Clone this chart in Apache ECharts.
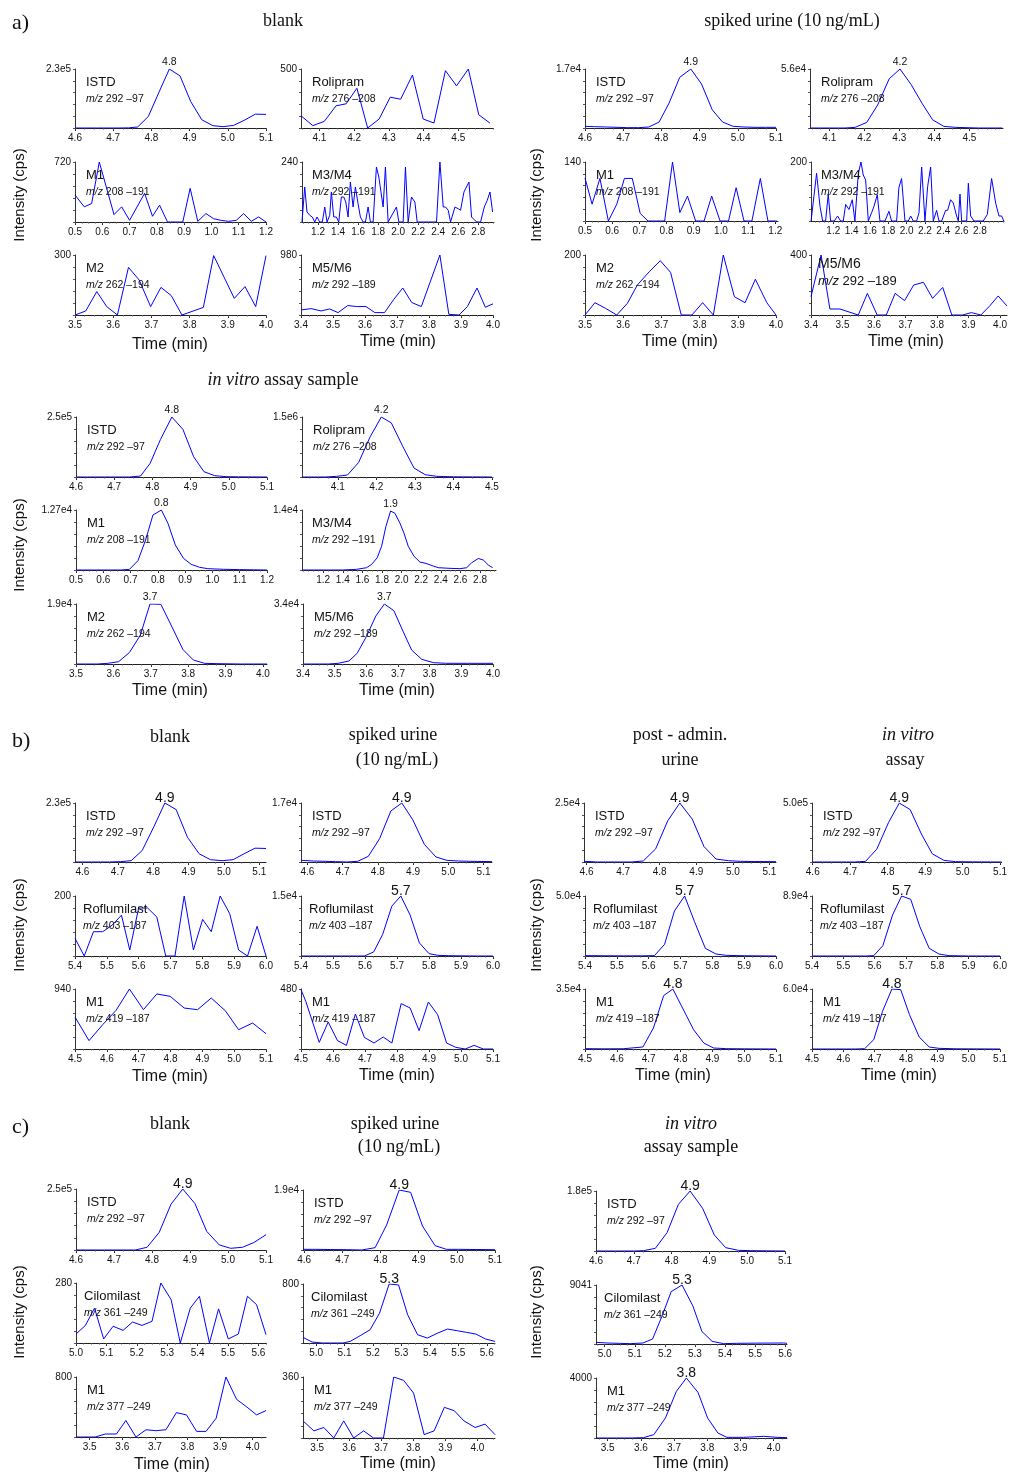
<!DOCTYPE html>
<html><head><meta charset="utf-8">
<script src="https://cdn.jsdelivr.net/npm/echarts@6/dist/echarts.min.js"></script>
<style>html,body{margin:0;padding:0;background:#fff}#c{width:1010px;height:1473px}</style>
</head><body><div id="c"></div>
<script>
// ================= DATA (time in min, intensity in cps) =================
// ---- a) blank ----
const A_BLANK_ISTD = [[4.600,0],[4.628,0],[4.656,0],[4.684,0],[4.712,0],[4.740,500],[4.764,3900],[4.792,45000],[4.820,140000],[4.847,230000],[4.875,203000],[4.903,103000],[4.932,32000],[4.961,9000],[4.987,5200],[5.015,10000],[5.043,30000],[5.072,54000],[5.100,53000]];
const A_BLANK_M1 = [[0.500,324],[0.534,182],[0.561,222],[0.589,720],[0.643,89],[0.671,182],[0.700,20],[0.755,344],[0.784,69],[0.810,202],[0.839,0],[0.867,0],[0.895,0],[0.922,404],[0.950,8],[0.980,101],[1.008,40],[1.035,20],[1.063,8],[1.091,20],[1.118,101],[1.146,8],[1.173,61],[1.200,0]];
const A_BLANK_M2 = [[3.500,0],[3.528,20],[3.557,117],[3.583,42],[3.611,0],[3.640,238],[3.668,175],[3.698,42],[3.725,138],[3.752,97],[3.780,0],[3.836,38],[3.863,297],[3.917,83],[3.945,142],[3.973,42],[4.000,297]];
const A_BLANK_ROLI = [[4.047,104],[4.081,20],[4.114,56],[4.148,188],[4.177,205],[4.208,337],[4.239,0],[4.272,76],[4.304,261],[4.334,244],[4.368,449],[4.399,76],[4.430,42],[4.463,486],[4.495,357],[4.529,500],[4.559,112],[4.591,42]];
const A_BLANK_M34 = [[1.040,0],[1.067,140],[1.090,40],[1.117,27],[1.143,20],[1.167,0],[1.190,20],[1.217,0],[1.243,0],[1.267,60],[1.290,0],[1.317,27],[1.333,120],[1.357,20],[1.383,20],[1.407,0],[1.433,100],[1.457,100],[1.477,80],[1.500,20],[1.523,160],[1.550,60],[1.573,140],[1.600,73],[1.623,20],[1.650,0],[1.673,0],[1.700,60],[1.723,0],[1.750,0],[1.783,220],[1.807,180],[1.850,60],[1.873,220],[1.900,0],[1.983,60],[2.007,0],[2.050,0],[2.073,220],[2.100,0],[2.133,100],[2.167,80],[2.190,0],[2.383,0],[2.417,240],[2.450,60],[2.473,60],[2.500,47],[2.523,0],[2.567,60],[2.600,53],[2.623,47],[2.657,120],[2.707,160],[2.733,20],[2.783,0],[2.823,0],[2.860,60],[2.890,87],[2.917,120],[2.943,40]];
const A_BLANK_M56 = [[3.400,83],[3.432,104],[3.463,66],[3.489,99],[3.516,39],[3.546,154],[3.574,138],[3.603,138],[3.631,39],[3.661,39],[3.689,248],[3.718,441],[3.746,204],[3.776,138],[3.834,980],[3.862,11],[3.894,0],[3.920,138],[3.950,441],[3.976,127],[4.000,182]];
// ---- a) spiked urine ----
const A_SPK_ISTD = [[4.600,478],[4.625,382],[4.656,287],[4.684,190],[4.712,96],[4.740,96],[4.767,287],[4.794,1719],[4.820,7162],[4.848,14611],[4.877,17000],[4.905,12700],[4.933,5253],[4.960,1719],[4.988,478],[5.016,287],[5.045,191],[5.073,191],[5.100,191]];
const A_SPK_M1 = [[0.500,102],[0.526,40],[0.555,101],[0.586,0],[0.617,40],[0.645,101],[0.674,101],[0.703,18],[0.732,0],[0.762,0],[0.793,0],[0.822,140],[0.849,20],[0.877,59],[0.907,0],[0.938,0],[0.966,59],[0.997,0],[1.028,0],[1.056,79],[1.085,0],[1.114,0],[1.145,101],[1.173,0],[1.206,0]];
const A_SPK_M2 = [[3.500,0],[3.526,41],[3.554,22],[3.583,0],[3.611,39],[3.637,100],[3.668,144],[3.697,181],[3.724,142],[3.752,0],[3.780,0],[3.808,41],[3.836,0],[3.862,200],[3.891,61],[3.919,41],[3.946,119],[3.976,41],[4.000,0]];
const A_SPK_ROLI = [[4.047,0],[4.078,0],[4.111,0],[4.145,0],[4.174,622],[4.207,5289],[4.238,21778],[4.271,46667],[4.302,56000],[4.334,41067],[4.365,23333],[4.395,7778],[4.427,1556],[4.460,622],[4.493,311],[4.527,0],[4.560,0],[4.594,0]];
const A_SPK_M34 = [[0.958,0],[1.018,162],[1.055,50],[1.084,0],[1.116,0],[1.145,91],[1.171,0],[1.211,0],[1.247,17],[1.280,0],[1.309,0],[1.335,56],[1.371,39],[1.407,72],[1.436,0],[1.473,161],[1.502,200],[1.527,156],[1.553,139],[1.582,0],[1.618,28],[1.644,50],[1.680,89],[1.709,0],[1.764,0],[1.807,33],[1.836,0],[1.891,0],[1.916,114],[1.945,144],[1.982,0],[2.018,0],[2.044,17],[2.073,0],[2.109,0],[2.135,28],[2.164,183],[2.200,0],[2.229,117],[2.262,183],[2.291,0],[2.327,36],[2.353,0],[2.382,0],[2.425,36],[2.447,36],[2.480,72],[2.509,61],[2.545,17],[2.564,0],[2.582,91],[2.600,0],[2.655,0],[2.673,128],[2.698,17],[2.735,0],[2.836,0],[2.880,22],[2.927,144],[2.971,61],[3.007,17],[3.036,17],[3.060,0]];
const A_SPK_M56 = [[3.400,122],[3.432,400],[3.460,40],[3.492,40],[3.550,0],[3.579,144],[3.610,0],[3.639,0],[3.667,144],[3.697,96],[3.726,200],[3.757,218],[3.786,111],[3.818,184],[3.847,0],[3.881,0],[3.909,16],[3.939,0],[3.968,62],[3.994,127],[4.022,60]];
// ---- a) in vitro assay sample ----
const A_IV_ISTD = [[4.600,0],[4.630,0],[4.660,0],[4.690,0],[4.715,0],[4.740,0],[4.769,4144],[4.794,56630],[4.821,156077],[4.851,250000],[4.880,198000],[4.908,84254],[4.935,22099],[4.963,5525],[4.993,1381],[5.025,600],[5.060,300],[5.100,0]];
const A_IV_M1 = [[0.500,0],[0.560,0],[0.620,0],[0.665,0],[0.696,141],[0.727,1976],[0.755,6350],[0.782,11642],[0.813,12700],[0.837,9878],[0.864,5292],[0.894,2470],[0.922,1200],[0.953,564],[0.983,282],[1.040,150],[1.100,80],[1.200,0]];
const A_IV_M2 = [[3.500,0],[3.530,0],[3.557,0],[3.585,209],[3.614,731],[3.643,3654],[3.672,9082],[3.698,19000],[3.727,18900],[3.757,11692],[3.786,4593],[3.814,1253],[3.844,209],[3.880,100],[3.940,0],[4.011,0]];
const A_IV_ROLI = [[4.008,0],[4.040,0],[4.068,0],[4.097,16484],[4.125,49451],[4.154,362637],[4.184,1005495],[4.213,1500000],[4.239,1351648],[4.269,758242],[4.298,222527],[4.327,57692],[4.357,16484],[4.400,5000],[4.450,2000],[4.500,0]];
const A_IV_M34 = [[0.986,0],[1.200,0],[1.400,0],[1.540,154],[1.643,538],[1.694,1308],[1.751,2846],[1.796,5538],[1.840,10154],[1.888,13769],[1.932,13231],[1.983,10923],[2.024,8615],[2.068,5538],[2.126,3231],[2.187,1846],[2.249,1538],[2.323,923],[2.374,538],[2.494,385],[2.596,308],[2.664,538],[2.715,1692],[2.783,2692],[2.834,2308],[2.885,1154],[2.929,538]];
const A_IV_M56 = [[3.400,0],[3.450,0],[3.480,0],[3.511,378],[3.545,1700],[3.571,6044],[3.600,15489],[3.630,27200],[3.657,34000],[3.687,30222],[3.714,19267],[3.743,7933],[3.775,2644],[3.812,756],[3.850,400],[3.920,378],[4.000,378]];
// ---- b) ----
const B_BLANK_ISTD = [[4.579,0],[4.611,0],[4.643,0],[4.675,0],[4.707,1285],[4.738,5140],[4.769,44972],[4.802,137430],[4.833,230000],[4.865,204302],[4.897,96369],[4.930,32123],[4.962,9000],[4.995,5140],[5.026,9000],[5.057,32123],[5.088,53966],[5.119,52700]];
const B_BLANK_ROFL = [[5.400,59],[5.429,0],[5.458,81],[5.487,81],[5.517,103],[5.546,136],[5.572,20],[5.600,160],[5.628,160],[5.657,130],[5.685,0],[5.714,0],[5.743,200],[5.772,20],[5.801,122],[5.828,81],[5.856,200],[5.886,141],[5.914,20],[5.942,0],[5.972,99],[6.000,0]];
const B_BLANK_M1 = [[4.500,501],[4.544,131],[4.587,381],[4.629,606],[4.671,940],[4.715,616],[4.757,862],[4.799,825],[4.843,642],[4.885,616],[4.928,799],[4.972,600],[5.014,303],[5.058,407],[5.100,240]];
const B_SPK_ISTD = [[4.582,480],[4.617,288],[4.650,200],[4.680,100],[4.712,0],[4.743,192],[4.773,1633],[4.805,6723],[4.837,14695],[4.868,17000],[4.899,12198],[4.932,5090],[4.965,1441],[4.996,480],[5.029,288],[5.062,200],[5.093,150],[5.124,96]];
const B_SPK_ROFL = [[5.400,0],[5.450,0],[5.500,0],[5.550,0],[5.598,0],[5.627,1006],[5.655,5363],[5.684,12486],[5.712,15000],[5.741,10223],[5.770,3268],[5.800,587],[5.828,168],[5.860,80],[5.900,40],[5.950,0],[6.000,0]];
const B_SPK_M1 = [[4.500,475],[4.515,381],[4.557,53],[4.585,216],[4.614,67],[4.642,29],[4.670,280],[4.698,93],[4.728,48],[4.757,96],[4.784,48],[4.813,363],[4.841,328],[4.869,147],[4.898,376],[4.927,275],[4.955,48],[4.984,13],[5.013,0],[5.041,29],[5.070,0],[5.100,0]];
const B_POST_ISTD = [[4.594,280],[4.630,0],[4.660,0],[4.690,0],[4.722,0],[4.755,419],[4.789,5587],[4.822,17458],[4.855,25000],[4.889,18156],[4.921,6564],[4.954,1257],[4.988,559],[5.020,279],[5.060,200],[5.118,140]];
const B_POST_ROFL = [[5.400,278],[5.460,200],[5.520,100],[5.580,150],[5.618,278],[5.650,9722],[5.681,37500],[5.713,50000],[5.744,28611],[5.778,6389],[5.811,1667],[5.844,556],[5.900,200],[6.000,0]];
const B_POST_M1 = [[4.500,194],[4.560,100],[4.620,150],[4.682,1167],[4.715,12250],[4.747,31111],[4.776,35000],[4.808,23333],[4.841,11278],[4.873,3500],[4.904,583],[4.944,194],[5.000,100],[5.100,0]];
const B_IV_ISTD = [[4.600,0],[4.630,0],[4.660,0],[4.690,0],[4.712,0],[4.741,5587],[4.771,108939],[4.802,332402],[4.831,500000],[4.860,444134],[4.890,237430],[4.919,69832],[4.950,13966],[4.981,2793],[5.030,1000],[5.104,0]];
const B_IV_ROFL = [[5.400,0],[5.460,0],[5.520,0],[5.570,0],[5.597,494],[5.626,15328],[5.657,60822],[5.686,89000],[5.715,84056],[5.744,43506],[5.774,11372],[5.805,2967],[5.837,494],[5.900,0],[6.000,0]];
const B_IV_M1 = [[4.500,0],[4.560,0],[4.610,0],[4.640,0],[4.668,333],[4.697,9333],[4.725,37667],[4.755,60000],[4.783,59333],[4.811,34333],[4.842,12000],[4.874,2000],[4.905,667],[4.960,200],[5.100,0]];
// ---- c) ----
const C_BLANK_ISTD = [[4.600,0],[4.650,0],[4.700,0],[4.756,0],[4.787,11111],[4.819,72222],[4.850,187500],[4.881,250000],[4.913,190278],[4.944,76389],[4.977,20833],[5.007,6944],[5.038,11111],[5.068,30556],[5.100,62500]];
const C_BLANK_CILO = [[5.000,42],[5.031,82],[5.061,163],[5.091,19],[5.122,78],[5.155,59],[5.186,98],[5.217,82],[5.250,101],[5.279,280],[5.313,202],[5.343,0],[5.376,163],[5.406,218],[5.439,0],[5.469,159],[5.501,19],[5.534,42],[5.564,218],[5.594,179],[5.625,39]];
const C_BLANK_M1 = [[3.458,0],[3.517,0],[3.548,40],[3.582,40],[3.611,220],[3.642,0],[3.673,97],[3.703,84],[3.734,97],[3.766,325],[3.797,295],[3.828,75],[3.857,75],[3.888,250],[3.918,800],[3.951,501],[3.981,404],[4.012,295],[4.041,352]];
const C_SPK_ISTD = [[4.597,211],[4.629,211],[4.670,150],[4.710,100],[4.751,0],[4.786,739],[4.816,7917],[4.849,19000],[4.879,18261],[4.910,7600],[4.943,1372],[4.973,211],[5.004,211],[5.050,150],[5.100,106]];
const C_SPK_CILO = [[4.954,76],[4.986,13],[5.021,0],[5.056,0],[5.094,0],[5.120,22],[5.155,99],[5.190,180],[5.223,404],[5.257,800],[5.290,787],[5.322,382],[5.357,112],[5.391,67],[5.428,135],[5.462,189],[5.497,166],[5.529,144],[5.562,121],[5.596,54],[5.629,22]];
const C_SPK_M1 = [[3.456,101],[3.490,42],[3.521,62],[3.552,0],[3.583,101],[3.614,0],[3.645,42],[3.676,0],[3.707,0],[3.739,360],[3.770,340],[3.801,265],[3.834,20],[3.865,42],[3.897,181],[3.928,161],[3.958,101],[3.993,62],[4.024,82],[4.055,20]];
const C_IV_ISTD = [[4.600,0],[4.650,0],[4.700,0],[4.726,1000],[4.757,8000],[4.788,55000],[4.818,140000],[4.849,180000],[4.882,128000],[4.913,48000],[4.943,10000],[4.977,2000],[5.008,1000],[5.050,500],[5.100,0]];
const C_IV_CILO = [[4.971,254],[5.008,152],[5.050,100],[5.085,51],[5.127,152],[5.159,762],[5.190,4216],[5.221,8025],[5.257,9041],[5.293,5841],[5.323,1930],[5.357,406],[5.395,51],[5.439,102],[5.500,130],[5.595,152],[5.606,102]];
const C_IV_M1 = [[3.465,0],[3.520,0],[3.570,0],[3.608,22],[3.639,222],[3.674,1333],[3.707,3111],[3.737,4000],[3.772,3044],[3.801,1333],[3.832,333],[3.859,44],[3.910,44],[3.970,111],[4.010,44],[4.040,22]];

// full-scale (y max) labels and peak retention-time labels
const YLAB_A_BLANK = ['2.3e5','720','300','500','240','980'];
const YLAB_A_SPK   = ['1.7e4','140','200','5.6e4','200','400'];
const YLAB_A_IV    = ['2.5e5','1.27e4','1.9e4','1.5e6','1.4e4','3.4e4'];
const YLAB_B_BLANK = ['2.3e5','200','940'];
const YLAB_B_SPK   = ['1.7e4','1.5e4','480'];
const YLAB_B_POST  = ['2.5e4','5.0e4','3.5e4'];
const YLAB_B_IV    = ['5.0e5','8.9e4','6.0e4'];
const YLAB_C_BLANK = ['2.5e5','280','800'];
const YLAB_C_SPK   = ['1.9e4','800','360'];
const YLAB_C_IV    = ['1.8e5','9041','4000'];
const PEAK_A_BLANK = ['4.8',null,null,null,null,null];
const PEAK_A_SPK   = ['4.9',null,null,'4.2',null,null];
const PEAK_A_IV    = ['4.8','0.8','3.7','4.2','1.9','3.7'];
const PEAK_B_BLANK = ['4.9',null,null];
const PEAK_B_SPK   = ['4.9','5.7',null];
const PEAK_B_POST  = ['4.9','5.7','4.8'];
const PEAK_B_IV    = ['4.9','5.7','4.8'];
const PEAK_C_BLANK = ['4.9',null,null];
const PEAK_C_SPK   = ['4.9','5.3',null];
const PEAK_C_IV    = ['4.9','5.3','3.8'];
const NAMES_A = ['ISTD','M1','M2','Rolipram','M3/M4','M5/M6'];
const MZ_A    = ['292 –97','208 –191','262 –194','276 –208','292 –191','292 –189'];
const NAMES_B = ['ISTD','Roflumilast','M1'];
const MZ_B    = ['292 –97','403 –187','419 –187'];
const NAMES_C = ['ISTD','Cilomilast','M1'];
const MZ_C    = ['292 –97','361 –249','377 –249'];
// x tick labels
const TK_ISTD = [4.6,4.7,4.8,4.9,5.0,5.1];
const TK_M1A  = [0.5,0.6,0.7,0.8,0.9,1.0,1.1,1.2];
const TK_M2A  = [3.5,3.6,3.7,3.8,3.9,4.0];
const TK_ROLI = [4.1,4.2,4.3,4.4,4.5];
const TK_M34  = [1.2,1.4,1.6,1.8,2.0,2.2,2.4,2.6,2.8];
const TK_M56  = [3.4,3.5,3.6,3.7,3.8,3.9,4.0];
const TK_ROFL = [5.4,5.5,5.6,5.7,5.8,5.9,6.0];
const TK_M1B  = [4.5,4.6,4.7,4.8,4.9,5.0,5.1];
const TK_CILO = [5.0,5.1,5.2,5.3,5.4,5.5,5.6];
const TK_M1C  = [3.5,3.6,3.7,3.8,3.9,4.0];

// ================= LAYOUT =================
// each panel layout: [left, top, width, height, xMin, xMax]
const GROUPS = [
 {sec:'a', data:[A_BLANK_ISTD,A_BLANK_M1,A_BLANK_M2,A_BLANK_ROLI,A_BLANK_M34,A_BLANK_M56], ylab:YLAB_A_BLANK, peak:PEAK_A_BLANK, names:NAMES_A, mz:MZ_A,
  ticks:[TK_ISTD,TK_M1A,TK_M2A,TK_ROLI,TK_M34,TK_M56],
  lay:[[75,69,191,59,4.6,5.1],[75,162,191,60,0.5,1.2],[75,255,191,60,3.5,4.0],[301,69,192,59,4.047,4.6],[302,162,192,60,1.04,2.957],[301,255,192,60,3.4,4.0]]},
 {sec:'a', data:[A_SPK_ISTD,A_SPK_M1,A_SPK_M2,A_SPK_ROLI,A_SPK_M34,A_SPK_M56], ylab:YLAB_A_SPK, peak:PEAK_A_SPK, names:NAMES_A, mz:MZ_A,
  ticks:[TK_ISTD,TK_M1A,TK_M2A,TK_ROLI,TK_M34,TK_M56],
  lay:[[585,69,191,59,4.6,5.1],[585,162,193,59,0.5,1.21],[585,255,191,60,3.5,4.0],[810,69,193,59,4.045,4.596],[811,162,193,59,0.957,3.062],[811,255,197,60,3.4,4.022]], bigLast:true},
 {sec:'a', data:[A_IV_ISTD,A_IV_M1,A_IV_M2,A_IV_ROLI,A_IV_M34,A_IV_M56], ylab:YLAB_A_IV, peak:PEAK_A_IV, names:NAMES_A, mz:MZ_A,
  ticks:[TK_ISTD,TK_M1A,TK_M2A,TK_ROLI,TK_M34,TK_M56],
  lay:[[76,417,191,60,4.6,5.1],[76,510,191,60,0.5,1.2],[76,604,191,60,3.5,4.011],[302,417,191,60,4.007,4.503],[302,510,194,60,0.984,2.963],[303,604,190,60,3.4,4.0]]},
 {sec:'b', data:[B_BLANK_ISTD,B_BLANK_ROFL,B_BLANK_M1], ylab:YLAB_B_BLANK, peak:PEAK_B_BLANK, names:NAMES_B, mz:MZ_B, ticks:[TK_ISTD,TK_ROFL,TK_M1B],
  lay:[[75,803,191,59,4.579,5.119],[75,896,191,60,5.4,6.0],[75,989,191,60,4.5,5.1]]},
 {sec:'b', data:[B_SPK_ISTD,B_SPK_ROFL,B_SPK_M1], ylab:YLAB_B_SPK, peak:PEAK_B_SPK, names:NAMES_B, mz:MZ_B, ticks:[TK_ISTD,TK_ROFL,TK_M1B],
  lay:[[301,803,191,59,4.582,5.124],[301,896,192,60,5.4,6.0],[301,989,192,60,4.5,5.1]]},
 {sec:'b', data:[B_POST_ISTD,B_POST_ROFL,B_POST_M1], ylab:YLAB_B_POST, peak:PEAK_B_POST, names:NAMES_B, mz:MZ_B, ticks:[TK_ISTD,TK_ROFL,TK_M1B],
  lay:[[584,803,192,59,4.593,5.118],[585,896,191,60,5.4,6.0],[585,989,191,60,4.5,5.1]]},
 {sec:'b', data:[B_IV_ISTD,B_IV_ROFL,B_IV_M1], ylab:YLAB_B_IV, peak:PEAK_B_IV, names:NAMES_B, mz:MZ_B, ticks:[TK_ISTD,TK_ROFL,TK_M1B],
  lay:[[812,803,191,59,4.598,5.104],[812,896,191,60,5.4,6.0],[812,989,191,60,4.5,5.1]]},
 {sec:'c', data:[C_BLANK_ISTD,C_BLANK_CILO,C_BLANK_M1], ylab:YLAB_C_BLANK, peak:PEAK_C_BLANK, names:NAMES_C, mz:MZ_C, ticks:[TK_ISTD,TK_CILO,TK_M1C],
  lay:[[76,1189,190,61,4.6,5.1],[76,1283,190,60,5.0,5.625],[76,1377,190,60,3.458,4.041]]},
 {sec:'c', data:[C_SPK_ISTD,C_SPK_CILO,C_SPK_M1], ylab:YLAB_C_SPK, peak:PEAK_C_SPK, names:NAMES_C, mz:MZ_C, ticks:[TK_ISTD,TK_CILO,TK_M1C],
  lay:[[303,1190,192,60,4.597,5.1],[303,1284,192,59,4.954,5.629],[303,1377,192,61,3.456,4.055]]},
 {sec:'c', data:[C_IV_ISTD,C_IV_CILO,C_IV_M1], ylab:YLAB_C_IV, peak:PEAK_C_IV, names:NAMES_C, mz:MZ_C, ticks:[TK_ISTD,TK_CILO,TK_M1C],
  lay:[[596,1191,189,60,4.6,5.1],[596,1285,191,59,4.971,5.606],[596,1378,191,60,3.465,4.04]]}
];

const SANS = "'Liberation Sans', Arial, Helvetica, sans-serif";
const SERIF = "'Liberation Serif', 'Times New Roman', serif";
const INK = '#111';
const grids=[], xAxes=[], yAxes=[], series=[], graphics=[];

function txt(text, x, y, size, o) {
  o = o || {};
  const fam = o.serif ? SERIF : SANS;
  const al = o.align || 'center';
  return {type:'text', x:x, y:y, rotation:o.rot||0, silent:true, z:20,
    style:{text:text, fontSize:size, fontFamily:fam, fill:INK, textAlign:al, align:al,
      textVerticalAlign:'middle', verticalAlign:'middle',
      rich:{i:{fontStyle:'italic', fontSize:size, fontFamily:fam, fill:INK}, n:{fontSize:size, fontFamily:fam, fill:INK}}}};
}

let gi = 0;
GROUPS.forEach(g => {
  g.data.forEach((d, k) => {
    const [l, t, w, h, x0, x1] = g.lay[k];
    const tk = g.ticks[k];
    const ymax = Number(g.ylab[k]);
    grids.push({left:l, top:t, width:w, height:h});
    const minor = [];
    const st = (tk[1]-tk[0]) / 4;
    for (let m = -20; m <= 200; m++) {
      const v = tk[0] + m*st;
      if (v >= x0 - 1e-9 && v <= x1 + 1e-9) minor.push(Math.round(v*10000)/10000);
    }
    xAxes.push({type:'value', gridIndex:gi, min:x0, max:x1, position:'bottom',
      axisLine:{show:true, onZero:false, lineStyle:{color:'#222', width:1}},
      axisTick:{show:true, customValues:tk, length:3, lineStyle:{color:'#222'}},
      axisLabel:{show:true, customValues:tk, formatter:v => v.toFixed(1), fontSize:10, fontFamily:SANS, color:INK, margin:5, hideOverlap:false},
      splitLine:{show:false}});
    xAxes.push({type:'value', gridIndex:gi, min:x0, max:x1, position:'bottom',
      axisLine:{show:false}, axisTick:{show:true, customValues:minor, length:1.5, lineStyle:{color:'#555'}},
      axisLabel:{show:false}, splitLine:{show:false}});
    const yt = [0,0.2,0.4,0.6,0.8,1].map(f => f*ymax);
    const lab = g.ylab[k];
    yAxes.push({type:'value', gridIndex:gi, min:0, max:ymax,
      axisLine:{show:true, lineStyle:{color:'#333', width:1}},
      axisTick:{show:true, customValues:yt, length:2, lineStyle:{color:'#555'}},
      axisLabel:{show:true, customValues:[ymax], formatter:() => lab, fontSize:10, fontFamily:SANS, color:INK, margin:4},
      splitLine:{show:false}});
    let pk = 0;
    d.forEach((p, j) => { if (p[1] > d[pk][1]) pk = j; });
    const big = g.sec !== 'a';
    const s = {type:'line', xAxisIndex:2*gi, yAxisIndex:gi, data:d, showSymbol:false, symbol:'none',
      lineStyle:{color:'#0000ff', width:1}, animation:false, silent:true, z:5};
    if (g.peak[k]) {
      s.markPoint = {symbol:'circle', symbolSize:1, itemStyle:{color:'rgba(0,0,0,0)'}, animation:false, silent:true,
        data:[{coord:d[pk], label:{show:true, formatter:g.peak[k], position:'top', distance: big ? -3 : 1,
          fontSize: big ? 14 : 10.5, lineHeight: big ? 14 : 11, fontFamily:SANS, color:INK}}]};
    }
    series.push(s);
    // compound name and transition
    const nm = g.names[k];
    const bigTxt = g.bigLast && k === 5;
    const dx = bigTxt ? 7 : (nm === 'Roflumilast' || nm === 'Cilomilast' ? 8 : (nm === 'M3/M4' ? 10 : 11));
    const ny = bigTxt ? 9 : 13, my = bigTxt ? 26 : 30;
    graphics.push(txt(nm, l+dx, t+ny, bigTxt ? 14 : 13, {align:'left'}));
    graphics.push(txt('{i|m/z}{n| ' + g.mz[k] + '}', l+dx, t+my, bigTxt ? 13 : 10.5, {align:'left'}));
    gi++;
  });
});

// section letters & group titles
graphics.push(txt('a)', 12, 23, 22, {serif:true, align:'left'}));
graphics.push(txt('b)', 12, 741, 22, {serif:true, align:'left'}));
graphics.push(txt('c)', 12, 1127, 22, {serif:true, align:'left'}));
graphics.push(txt('blank', 283, 21, 18, {serif:true}));
graphics.push(txt('spiked urine (10 ng/mL)', 792, 21, 18, {serif:true}));
graphics.push(txt('{i|in vitro}{n| assay sample}', 283, 380, 18, {serif:true}));
graphics.push(txt('blank', 170, 737, 18, {serif:true}));
graphics.push(txt('spiked urine', 393, 735, 18, {serif:true}));
graphics.push(txt('(10 ng/mL)', 397, 760, 18, {serif:true}));
graphics.push(txt('post - admin.', 680, 735, 18, {serif:true}));
graphics.push(txt('urine', 680, 760, 18, {serif:true}));
graphics.push(txt('{i|in vitro}', 908, 735, 18, {serif:true}));
graphics.push(txt('assay', 905, 760, 18, {serif:true}));
graphics.push(txt('blank', 170, 1124, 18, {serif:true}));
graphics.push(txt('spiked urine', 395, 1124, 18, {serif:true}));
graphics.push(txt('(10 ng/mL)', 399, 1147, 18, {serif:true}));
graphics.push(txt('{i|in vitro}', 691, 1124, 18, {serif:true}));
graphics.push(txt('assay sample', 691, 1147, 18, {serif:true}));
// axis titles
[[20,195],[537,195],[20,545],[20,925],[537,925],[20,1312],[537,1312]].forEach(p =>
  graphics.push(txt('Intensity (cps)', p[0], p[1], 15, {rot:Math.PI/2})));
[[170,345],[398,342],[680,342],[906,342],[170,691],[397,691],[170,1077],[397,1076],[673,1076],[899,1076],[172,1465],[398,1464],[691,1464]].forEach(p =>
  graphics.push(txt('Time (min)', p[0], p[1], 16)));

const chart = echarts.init(document.getElementById('c'), null, {renderer:'canvas'});
chart.setOption({backgroundColor:'#fff', animation:false, grid:grids, xAxis:xAxes, yAxis:yAxes, series:series, graphic:graphics});
</script>
</body></html>
